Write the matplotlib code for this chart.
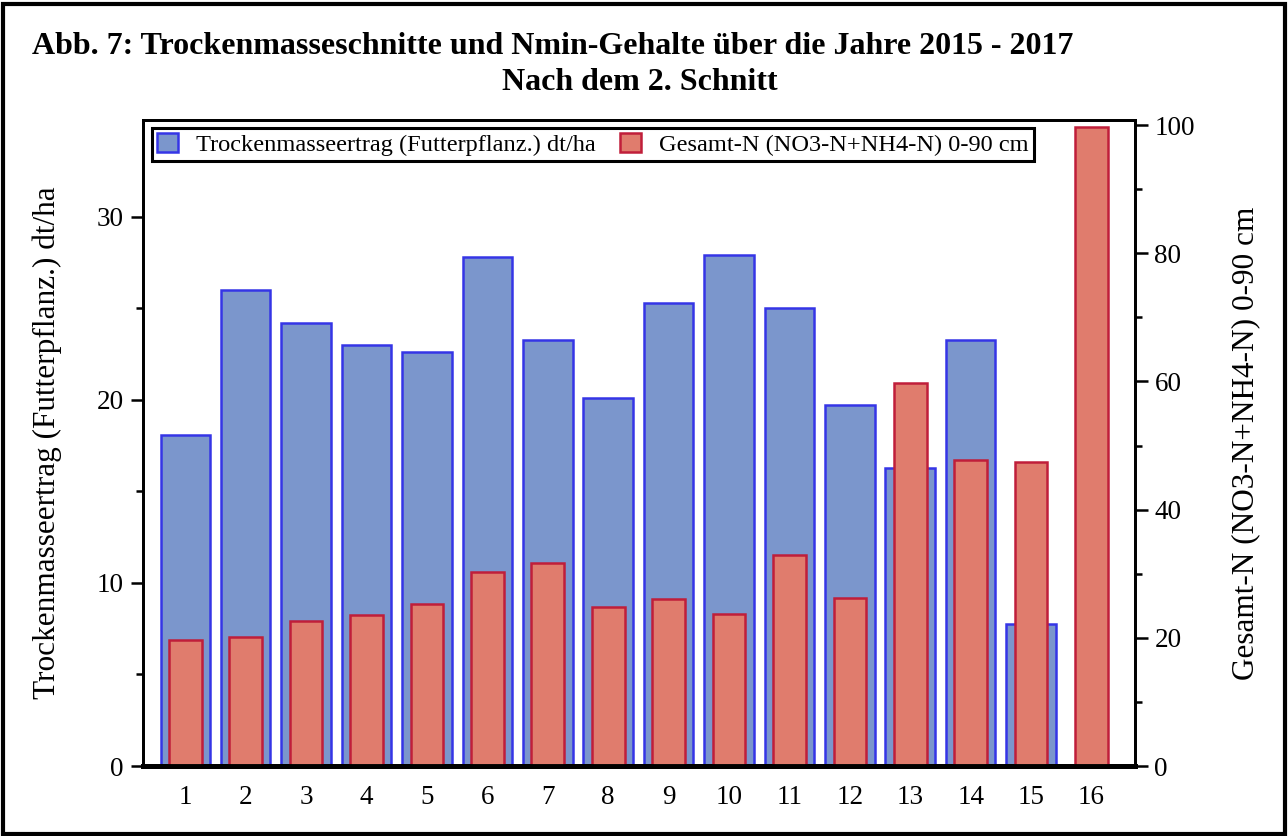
#!/usr/bin/env python3
import matplotlib

matplotlib.use("Agg")
import matplotlib.pyplot as plt
from matplotlib.patches import Rectangle

plt.rcParams["font.family"] = ["Liberation Serif", "DejaVu Serif"]

categories = list(range(1, 17))
dry_mass = [18.1, 26.0, 24.2, 23.0, 22.6, 27.8, 23.3, 20.1, 25.3, 27.9,
            25.0, 19.7, 16.3, 23.3, 7.75, 0.0]
total_n = [19.7, 20.2, 22.7, 23.6, 25.3, 30.3, 31.7, 24.8, 26.1, 23.75,
           33.0, 26.25, 59.8, 47.7, 47.4, 99.7]

title = "Abb. 7: Trockenmasseschnitte und Nmin-Gehalte über die Jahre 2015 - 2017"
subtitle = "Nach dem 2. Schnitt"
left_label = "Trockenmasseertrag (Futterpflanz.) dt/ha"
right_label = "Gesamt-N (NO3-N+NH4-N) 0-90 cm"

BLUE_FILL = "#7b96cc"
BLUE_EDGE = "#3535e6"
RED_FILL = "#e07c6d"
RED_EDGE = "#c01e3a"

fig = plt.figure(figsize=(12.88, 8.36), dpi=100)
ax = fig.add_axes([143 / 1288, 1 - 766 / 836, (1135 - 143) / 1288, (766 - 120) / 836])
ax2 = ax.twinx()

blue = ax.bar(categories, dry_mass, width=0.82, color=BLUE_FILL,
              edgecolor=BLUE_EDGE, linewidth=1.8, label=left_label)
red = ax2.bar(categories, total_n, width=0.54, color=RED_FILL,
              edgecolor=RED_EDGE, linewidth=1.8, label=right_label)

ax.set_xlim(0.3, 16.72)
ax.set_ylim(0, 35.3)
ax2.set_ylim(0, 100.8)

ax.set_xticks(categories)
ax.set_yticks([0, 10, 20, 30])
ax.set_yticks([5, 15, 25], minor=True)
ax2.set_yticks([0, 20, 40, 60, 80, 100])
ax2.set_yticks([10, 30, 50, 70, 90], minor=True)

for a in (ax, ax2):
    a.tick_params(axis="both", which="major", direction="out", length=9,
                  width=1.8, labelsize=19.5, pad=5)
    a.tick_params(axis="y", which="minor", direction="out", length=5, width=1.8)
    for side in ("left", "right", "top"):
        a.spines[side].set_linewidth(2.0)
    a.spines["bottom"].set_linewidth(3.5)
ax.tick_params(axis="x", length=0, pad=14)

ax.set_ylabel(left_label, fontsize=22.5)
ax2.set_ylabel(right_label, fontsize=22.5)
ax.yaxis.set_label_coords(-0.082, 0.5)
ax2.yaxis.set_label_coords(1.097, 0.5)

leg = ax2.legend([blue, red], [left_label, right_label], ncol=2,
                 loc="upper left", bbox_to_anchor=(0.009, 0.988), fontsize=17.6,
                 frameon=True, fancybox=False, borderpad=0.2,
                 handlelength=0.85, handleheight=0.85, handletextpad=0.75,
                 columnspacing=1.0, borderaxespad=0.0)
leg.get_frame().set_edgecolor("black")
leg.get_frame().set_linewidth(2.2)
leg.get_frame().set_alpha(1.0)

fig.text(32 / 1288, 1 - 46 / 836, title, fontsize=23, fontweight="bold",
         ha="left", va="center")
fig.text(640 / 1288, 1 - 83 / 836, subtitle, fontsize=23, fontweight="bold",
         ha="center", va="center")

fig.patches.append(Rectangle((0.002, 0.002), 0.996, 0.993, transform=fig.transFigure,
                             fill=False, edgecolor="black", linewidth=3))

fig.savefig("out.png", dpi=100)
